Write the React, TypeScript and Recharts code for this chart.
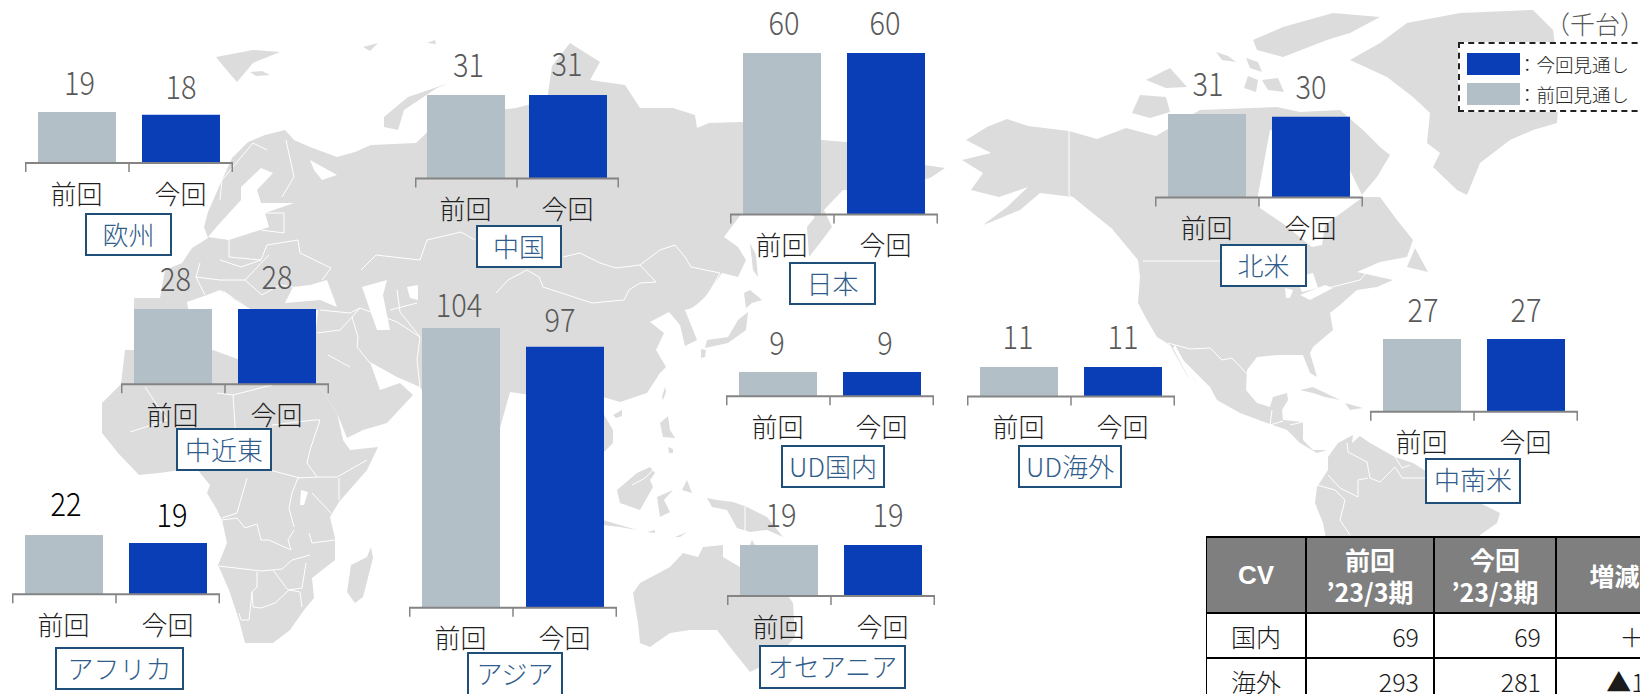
import React from 'react';
import { BarChart, Bar, Cell, XAxis, YAxis } from 'recharts';

const FONT = '"Noto Sans CJK JP", "Noto Sans", sans-serif';
const CATEGORIES = ['前回', '今回'];
const REGIONS = ['欧州', '中国', '中近東', 'アジア', 'アフリカ', '日本', 'UD国内', 'UD海外', 'オセアニア', '北米', '中南米'];
const PREVIOUS = [19, 31, 28, 104, 22, 60, 9, 11, 19, 31, 27];
const CURRENT = [18, 31, 28, 97, 19, 60, 9, 11, 19, 30, 27];
const COLORS = ['#b3bfc7', '#0a3eb6'];
const PX_PER_UNIT = 2.69;

// layout: axis left, axis y, axis width, label offsets [dx0, dy0, dx1, dy1], name box [x, y, w, h], value colour
const LAYOUT: any[] = [
  { x: 25, y: 163, w: 208, off: [2.5, 29, 0, 27], box: [85, 213, 87, 43], c: '#595959' },
  { x: 415, y: 178, w: 204, off: [2.5, 30, -1, 31], box: [476, 225, 86, 43], c: '#595959' },
  { x: 121, y: 384, w: 208, off: [2.5, 30, 0, 32], box: [176, 428, 96, 43], c: '#595959' },
  { x: 408.5, y: 607.5, w: 208, off: [-2, 22, -5, 26], box: [467, 652, 96, 60], c: '#595959' },
  { x: 12, y: 594, w: 208, off: [2, 31, 4, 28], box: [55, 647, 129, 43], c: '#000000' },
  { x: 730, y: 214.5, w: 208, off: [2, 30, -1, 30], box: [789, 262, 87, 43], c: '#595959' },
  { x: 726, y: 396, w: 208, off: [-1, 29, 3, 29], box: [781, 445, 104, 43], c: '#595959' },
  { x: 967, y: 397, w: 208, off: [-1, 30, 0, 30], box: [1018, 445, 104, 43], c: '#595959' },
  { x: 727, y: 596, w: 208, off: [2, 30, 5, 30], box: [759, 645, 147, 44], c: '#595959' },
  { x: 1155, y: 197, w: 208, off: [1, 30, 0, 29], box: [1220, 244, 87, 43], c: '#595959' },
  { x: 1370, y: 412, w: 208, off: [1, 29, 0, 29], box: [1425, 458, 96, 46], c: '#595959' },
];

const LAND: number[][][] = [
  // Eurasia
  [[208,212],[222,180],[232,158],[248,142],[265,135],[285,130],[294,140],[310,147],[337,157],[355,152],[371,145],[416,143],[440,120],[480,112],[516,108],[547,100],[552,66],[570,43],[600,62],[590,80],[625,85],[640,108],[673,108],[695,115],[697,128],[709,123],[742,122],[822,140],[846,142],[925,165],[945,168],[930,178],[880,190],[843,190],[824,210],[832,227],[820,243],[809,257],[807,227],[815,217],[790,205],[742,213],[724,237],[738,247],[746,260],[738,277],[722,273],[705,297],[693,308],[685,310],[697,340],[685,346],[680,325],[669,312],[650,322],[664,333],[656,350],[666,367],[660,373],[647,393],[620,402],[603,397],[603,413],[613,430],[613,443],[603,453],[600,470],[560,470],[530,395],[510,392],[480,500],[450,440],[420,387],[397,377],[370,362],[380,390],[400,383],[413,395],[387,423],[363,430],[347,438],[337,413],[320,387],[313,360],[318,310],[285,310],[262,315],[247,307],[220,290],[207,295],[187,302],[190,320],[175,340],[134,340],[134,298],[160,298],[165,270],[182,263],[192,248],[208,238],[204,227]],
  // Africa
  [[121,384],[125,350],[213,350],[240,360],[316,360],[320,387],[337,413],[343,440],[350,450],[378,447],[367,470],[339,502],[330,517],[335,538],[335,560],[312,578],[314,598],[304,610],[290,630],[273,643],[245,643],[239,620],[229,590],[218,565],[227,543],[222,520],[216,508],[207,493],[210,485],[196,468],[159,473],[139,475],[118,453],[102,433],[102,403]],
  // North America
  [[987,127],[1007,119],[1028,126],[1069,131],[1097,139],[1126,128],[1156,136],[1200,110],[1277,107],[1300,112],[1340,110],[1363,130],[1380,147],[1390,155],[1377,177],[1360,197],[1380,197],[1397,220],[1413,240],[1407,257],[1380,262],[1357,272],[1393,280],[1377,287],[1357,290],[1340,305],[1330,313],[1333,330],[1313,347],[1310,353],[1317,377],[1310,373],[1303,355],[1277,355],[1257,357],[1247,370],[1246,390],[1257,403],[1270,407],[1273,397],[1287,393],[1288,400],[1282,410],[1283,420],[1303,422],[1303,440],[1313,450],[1327,450],[1317,453],[1300,443],[1287,430],[1267,423],[1240,413],[1217,400],[1210,387],[1183,360],[1197,385],[1188,377],[1170,345],[1157,337],[1147,320],[1138,303],[1140,277],[1138,260],[1113,230],[1073,197],[1040,193],[1020,210],[991,222],[983,225],[1007,207],[1028,187],[999,197],[971,190],[983,173],[962,160],[991,153],[966,140]],
  // South America
  [[1328,457],[1338,443],[1353,435],[1352,443],[1360,436],[1370,443],[1395,457],[1413,463],[1440,480],[1480,503],[1500,513],[1497,523],[1480,535],[1470,560],[1330,560],[1323,523],[1315,503],[1317,487],[1328,470]],
  // Greenland
  [[1350,60],[1380,43],[1407,23],[1460,13],[1533,10],[1553,30],[1560,80],[1557,123],[1533,130],[1510,140],[1480,163],[1467,195],[1457,190],[1433,167],[1440,153],[1427,143],[1430,113],[1413,97],[1387,77]],
  // Arctic islands
  [[1132,113],[1140,95],[1166,97],[1170,112],[1150,118]],
  [[1146,80],[1170,68],[1187,87],[1166,88]],
  [[1253,40],[1283,27],[1333,13],[1380,17],[1350,33],[1327,40],[1283,57],[1257,50]],
  [[1216,52],[1228,56],[1236,62],[1222,60]],
  [[1246,58],[1258,62],[1262,72],[1250,68]],
  [[1262,80],[1278,78],[1284,92],[1268,90]],
  [[1248,76],[1258,80],[1256,92],[1244,88]],
  [[216,57],[253,50],[280,52],[253,63],[237,82],[224,67]],
  [[250,72],[262,71],[270,75],[256,76]],
  [[363,47],[378,43],[370,51]],
  [[427,43],[435,40],[436,44]],
  [[384,117],[408,97],[449,83],[437,88],[404,110],[398,130],[384,127]],
  // Pacific Asia
  [[750,243],[756,255],[758,277],[753,270]],
  [[744,293],[750,290],[762,300],[752,303],[746,308]],
  [[748,312],[746,330],[728,343],[705,348],[707,340],[728,337],[738,320]],
  [[701,349],[706,350],[705,357],[701,358]],
  [[662,397],[665,387],[666,392],[663,400]],
  [[613,415],[622,410],[622,416],[616,418]],
  [[660,423],[668,416],[670,430],[675,438],[663,437]],
  [[668,447],[673,449],[673,453],[669,453]],
  [[617,490],[637,473],[650,467],[655,473],[650,480],[653,487],[640,510],[620,503]],
  [[657,497],[673,490],[664,500],[670,512],[660,517]],
  [[687,480],[692,493],[682,490]],
  [[603,520],[637,530],[620,527],[603,525]],
  [[647,532],[655,530],[655,533]],
  [[675,537],[687,532],[680,537]],
  [[707,498],[717,500],[733,502],[747,507],[767,517],[783,537],[767,530],[750,532],[737,528],[727,510],[712,507]],
  // Australia
  [[633,593],[640,583],[670,567],[683,553],[698,557],[703,547],[723,545],[723,557],[740,567],[752,540],[770,570],[793,603],[795,637],[775,660],[750,672],[730,647],[717,630],[690,630],[670,633],[650,647],[640,643],[638,623]],
  // Others
  [[371,547],[373,558],[363,597],[355,603],[347,592],[351,565],[367,557]],
  [[1415,248],[1428,272],[1407,267]],
  [[1300,390],[1313,387],[1340,400],[1325,397],[1313,393]],
  [[1345,403],[1363,408],[1350,410]],
];

const WATER: number[][][] = [
  [[261,168],[273,173],[257,190],[261,203],[294,203],[265,213],[269,227],[229,240],[208,237],[220,223],[241,200],[241,187]],
  [[310,160],[337,175],[322,180],[314,170]],
  [[285,303],[293,287],[310,285],[327,280],[337,307],[320,300]],
  [[362,287],[387,280],[383,295],[390,330],[377,330],[370,310]],
  [[407,287],[418,285],[418,300],[410,298]],
  [[222,290],[248,307],[238,300],[225,294]],
  [[1285,288],[1293,290],[1290,298],[1286,298]],
  [[1300,295],[1325,285],[1333,288],[1310,300]],
  [[1296,277],[1313,273],[1318,288],[1302,292]],
  [[1175,345],[1197,385],[1192,384],[1173,348]],
  [[1258,195],[1260,208],[1285,225],[1312,247],[1322,245],[1325,225],[1363,197],[1340,150],[1270,130]],
  [[301,490],[308,492],[304,505],[300,505]],
];

const BORDERS: number[][][] = [
  [[361,270],[376,255],[420,260],[427,240],[461,232],[475,240]],
  [[563,257],[580,253],[600,263],[616,268],[640,265],[660,250],[675,245],[685,257],[691,267],[720,273],[705,300],[689,310]],
  [[496,293],[508,280],[527,270],[539,277],[543,287],[592,303],[624,300],[629,290],[640,283],[656,282],[640,265]],
  [[229,240],[229,257],[261,260],[267,245],[298,240],[300,253],[331,268],[322,280]],
  [[286,140],[294,177],[282,197]],
  [[267,150],[253,143],[222,180],[220,200]],
  [[257,213],[284,213],[284,233],[261,230]],
  [[200,263],[196,277],[220,280],[245,280],[269,255]],
  [[220,260],[241,267],[261,260]],
  [[245,280],[262,295],[280,285],[293,287]],
  [[196,277],[205,295]],
  [[320,310],[350,313],[360,308]],
  [[317,333],[340,330],[352,317],[358,337],[357,347],[370,363]],
  [[328,355],[350,367]],
  [[352,317],[360,308],[397,322],[420,337],[417,360],[420,387]],
  [[397,290],[400,312],[420,337]],
  [[390,310],[417,303]],
  [[145,387],[167,420],[130,432]],
  [[217,393],[233,395],[272,385]],
  [[233,395],[236,440],[262,468],[300,478]],
  [[272,425],[314,420],[320,420],[310,450],[307,463],[317,477],[337,477],[367,460]],
  [[317,477],[298,478]],
  [[247,478],[237,513],[222,518]],
  [[298,478],[292,493],[289,508],[294,527]],
  [[339,478],[339,500]],
  [[312,493],[331,513]],
  [[222,520],[237,518],[245,528],[257,524],[261,540],[269,540],[291,550],[288,540],[294,530]],
  [[309,533],[312,543],[335,540]],
  [[219,566],[261,571],[282,569],[292,560],[310,555]],
  [[257,572],[257,587],[252,592],[253,607],[261,608],[275,603],[289,590],[300,592],[302,607]],
  [[273,570],[288,590],[302,588],[306,563]],
  [[239,613],[241,620],[249,620],[252,592]],
  [[1069,131],[1069,195],[1113,230]],
  [[1143,261],[1225,261]],
  [[1320,290],[1360,280],[1367,272]],
  [[1168,343],[1190,349],[1210,348],[1222,360],[1232,358],[1247,374]],
  [[1272,410],[1270,425],[1283,421]],
  [[1290,425],[1303,422]],
  [[1347,443],[1348,452],[1367,462],[1370,478],[1380,482],[1395,467],[1402,478],[1425,478]],
  [[1395,457],[1402,468],[1410,465]],
  [[1317,485],[1335,490],[1345,500],[1340,520],[1350,535]],
  [[1328,475],[1340,488],[1358,497],[1358,480],[1368,478]],
  [[632,485],[645,478],[653,470]],
  [[745,507],[745,532]],
];

const pts = (p: number[][]) => p.map((q) => q.join(',')).join(' ');

function WorldMap() {
  return (
    <svg width={1640} height={694} style={{ position: 'absolute', left: 0, top: 0 }}>
      {LAND.map((p, i) => <polygon key={i} points={pts(p)} fill="#dcdcdc" />)}
      {WATER.map((p, i) => <polygon key={i} points={pts(p)} fill="#ffffff" />)}
      {BORDERS.map((p, i) => <polyline key={i} points={pts(p)} fill="none" stroke="#ffffff" strokeWidth={1} />)}
    </svg>
  );
}

const TOP_PAD = 50;
const BOTTOM_PAD = 50;

function Panel({ index }: { index: number }) {
  const l = LAYOUT[index];
  const data = CATEGORIES.map((c, i) => ({ name: c, value: i === 0 ? PREVIOUS[index] : CURRENT[index] }));
  const max = Math.max(PREVIOUS[index], CURRENT[index]);
  const plotH = max * PX_PER_UNIT;
  const half = l.w / 4;
  const tick = (p: any) => {
    const cx = p.payload.coordinate;
    const left = cx - half + 0.75;
    const right = p.index === 0 ? cx + half : cx + half - 0.75;
    return (
      <g>
        {p.index === 0 && <line x1={left} x2={left} y1={p.y} y2={p.y + 9} stroke="#848484" strokeWidth={1.5} />}
        <line x1={right} x2={right} y1={p.y} y2={p.y + 9} stroke="#848484" strokeWidth={1.5} />
        <text x={cx - 0.5} y={p.y + 29} textAnchor="middle" dominantBaseline="central" fontSize={26} fontWeight={300} fontFamily={FONT} fill="#1f1f1f">{p.payload.value}</text>
      </g>
    );
  };
  const label = (p: any) => {
    const i = p.index;
    const n = String(p.value).length;
    return (
      <text x={p.x + p.width / 2 + l.off[i * 2]} y={p.y - l.off[i * 2 + 1] - 2.5} textAnchor="middle" dominantBaseline="central" fontSize={33} fontWeight={300} fontFamily={FONT} fill={l.c} textLength={n * 15.5} lengthAdjust="spacingAndGlyphs">{p.value}</text>
    );
  };
  return (
    <div style={{ position: 'absolute', left: l.x, top: l.y - plotH - TOP_PAD }}>
      <BarChart width={l.w} height={plotH + TOP_PAD + BOTTOM_PAD} data={data} margin={{ top: TOP_PAD, right: 0, bottom: 0, left: 0 }} barSize={78} style={{ overflow: 'visible' }}>
        <XAxis dataKey="name" height={BOTTOM_PAD} tick={tick} tickLine={false} tickSize={0} tickMargin={0} interval={0} axisLine={{ stroke: '#848484', strokeWidth: 2 }} />
        <YAxis hide domain={[0, max]} />
        <Bar dataKey="value" isAnimationActive={false} label={label}>
          {data.map((d, i) => <Cell key={d.name} fill={COLORS[i]} />)}
        </Bar>
      </BarChart>
    </div>
  );
}

function NameBox({ index }: { index: number }) {
  const [x, y, w, h] = LAYOUT[index].box;
  return (
    <div style={{ position: 'absolute', left: x, top: y, width: w, height: h, boxSizing: 'border-box', border: '2px solid #1f4e79', background: '#fff', color: '#2f5c8a', fontFamily: FONT, fontWeight: 300, fontSize: 26, textAlign: 'center', lineHeight: '37px', whiteSpace: 'nowrap' }}>
      {REGIONS[index]}
    </div>
  );
}

const TABLE_COLS = [1206, 1306, 1434, 1556, 1673];
const TABLE_ROWS = [536, 613, 658, 703];
const TABLE_HEAD = ['CV', "前回\n’23/3期", "今回\n’23/3期", '増減'];
const TABLE_BODY = [
  ['国内', '69', '69', '＋0'],
  ['海外', '293', '281', '▲12'],
];

function Table() {
  const cell = (r: number, c: number, text: string, key: string) => (
    <div key={key} style={{
      position: 'absolute', left: TABLE_COLS[c], top: TABLE_ROWS[r],
      width: TABLE_COLS[c + 1] - TABLE_COLS[c], height: TABLE_ROWS[r + 1] - TABLE_ROWS[r],
      boxSizing: 'border-box', border: '1px solid #000', borderTopWidth: r === 0 ? 2 : 1, borderBottomWidth: 1,
      background: r === 0 ? '#7f7f7f' : '#fff', color: r === 0 ? '#fff' : '#1a1a1a',
      fontFamily: r === 0 && c === 0 ? '"Liberation Sans", ' + FONT : FONT, fontSize: r === 0 && c === 0 ? 26 : 25, fontWeight: r === 0 ? 700 : 300,
      display: 'flex', alignItems: 'center', justifyContent: r === 0 || c === 0 ? 'center' : 'flex-end',
      textAlign: 'center', whiteSpace: 'pre', lineHeight: '32px', paddingRight: r > 0 && c > 0 ? 14 : 0,
    }}>{text}</div>
  );
  return (
    <>
      {TABLE_HEAD.map((t, c) => cell(0, c, t, 'h' + c))}
      {TABLE_BODY.map((row, r) => row.map((t, c) => cell(r + 1, c, t, r + '-' + c)))}
    </>
  );
}

const LEGEND_ITEMS = [
  { label: '：今回見通し', color: COLORS[1], top: 53 },
  { label: '：前回見通し', color: COLORS[0], top: 83 },
];

function Legend() {
  return (
    <>
      <div style={{ position: 'absolute', left: 1545, top: 5, width: 110, fontFamily: FONT, fontWeight: 300, fontSize: 25, color: '#595959', lineHeight: '36px', whiteSpace: 'nowrap' }}>（千台）</div>
      <div style={{ position: 'absolute', left: 1458, top: 42, width: 200, height: 70, boxSizing: 'border-box', border: '2px dashed #222', background: '#fff' }} />
      {LEGEND_ITEMS.map((it) => (
        <React.Fragment key={it.label}>
          <div style={{ position: 'absolute', left: 1467, top: it.top, width: 53, height: 22, background: it.color }} />
          <div style={{ position: 'absolute', left: 1518, top: it.top - 2, fontFamily: FONT, fontWeight: 300, fontSize: 18.5, lineHeight: '26px', color: '#262626', whiteSpace: 'nowrap' }}>{it.label}</div>
        </React.Fragment>
      ))}
    </>
  );
}

export default function App() {
  return (
    <div style={{ position: 'fixed', left: 0, top: 0, width: 1640, height: 694, overflow: 'hidden', background: '#fff' }}>
      <WorldMap />
      {REGIONS.map((_, i) => <Panel key={i} index={i} />)}
      {REGIONS.map((_, i) => <NameBox key={i} index={i} />)}
      <Legend />
      <Table />
    </div>
  );
}
